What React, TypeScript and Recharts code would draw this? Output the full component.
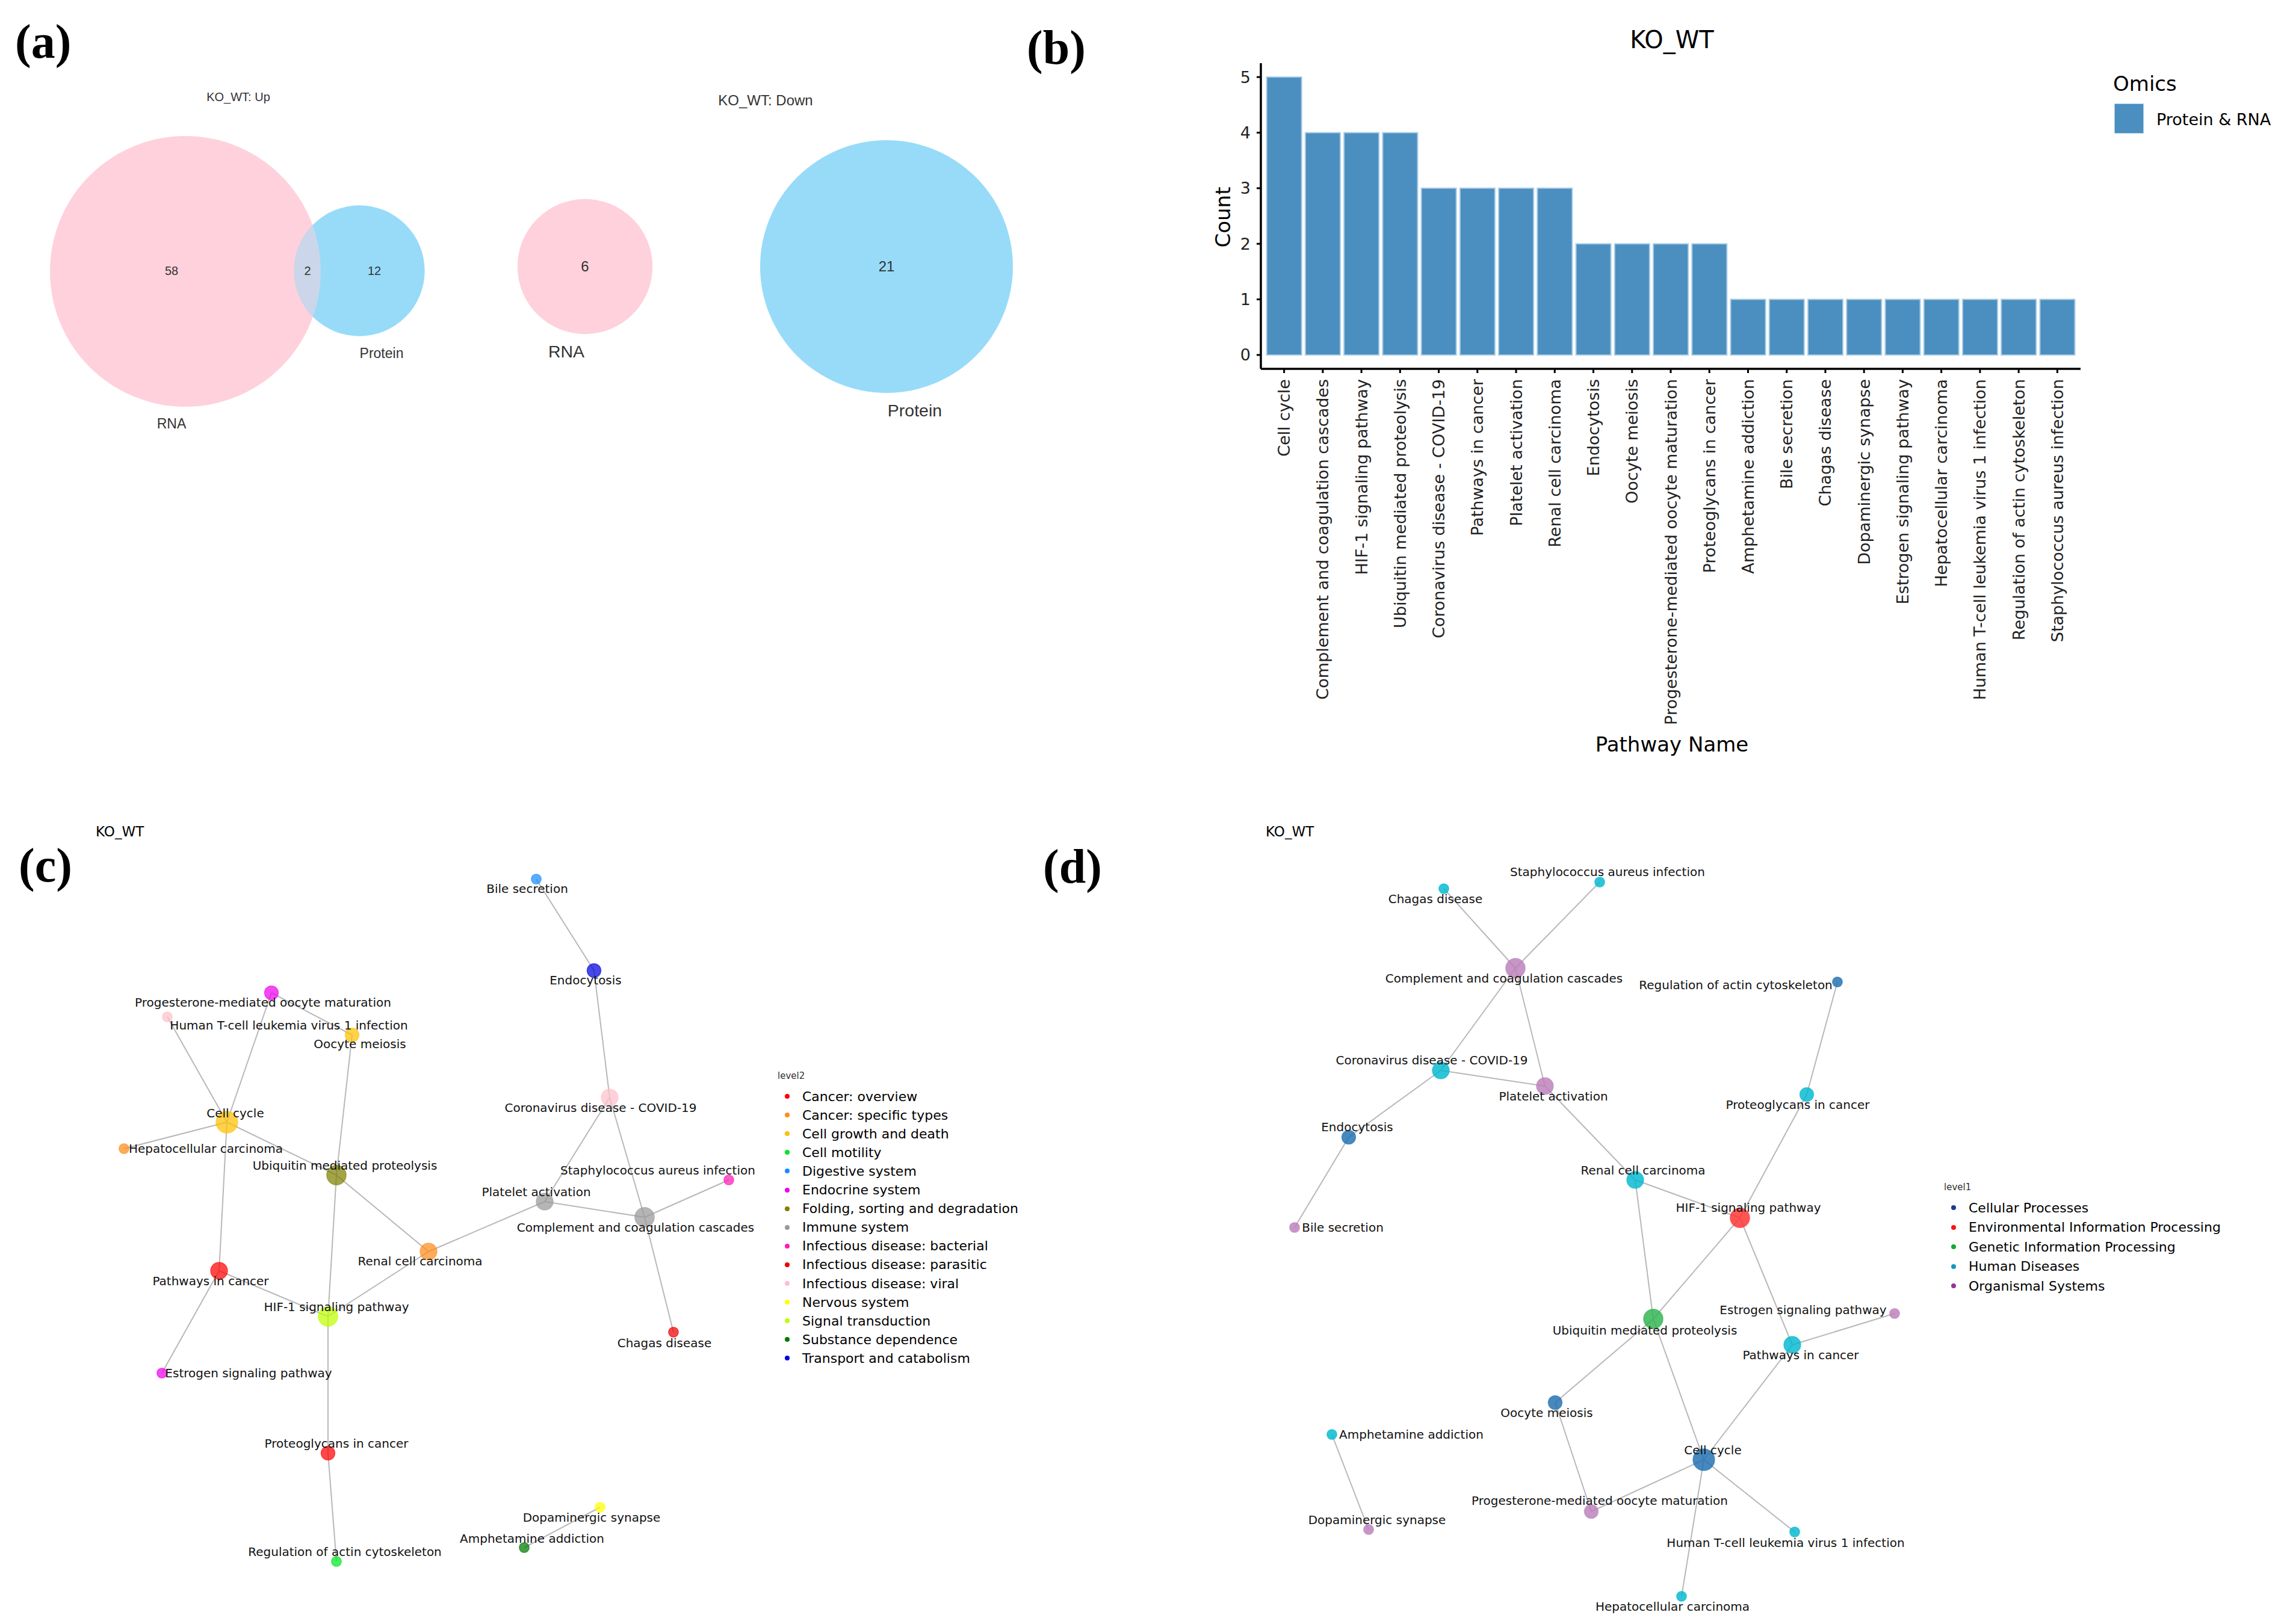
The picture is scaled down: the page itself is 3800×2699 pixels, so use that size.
import React from "react";
import { BarChart, Bar, XAxis, YAxis, ScatterChart, Scatter, ZAxis, ReferenceLine } from "recharts";

const DV = "'DejaVu Sans', sans-serif";
const AR = "'Liberation Sans', Arial, sans-serif";
const SERIF = "'Liberation Serif', 'Times New Roman', serif";

// ---------- (a) Venn counts ----------
const upRnaOnly = 58;
const upBoth = 2;
const upProteinOnly = 12;
const downRnaOnly = 6;
const downProteinOnly = 21;

const vennUpSets = [
  { set: "RNA", n: upRnaOnly + upBoth },
  { set: "Protein", n: upProteinOnly + upBoth },
];
const vennDownSets = [
  { set: "RNA", n: downRnaOnly },
  { set: "Protein", n: downProteinOnly },
];

// ---------- (b) pathway counts ----------
const pathways = [
  "Cell cycle",
  "Complement and coagulation cascades",
  "HIF-1 signaling pathway",
  "Ubiquitin mediated proteolysis",
  "Coronavirus disease - COVID-19",
  "Pathways in cancer",
  "Platelet activation",
  "Renal cell carcinoma",
  "Endocytosis",
  "Oocyte meiosis",
  "Progesterone-mediated oocyte maturation",
  "Proteoglycans in cancer",
  "Amphetamine addiction",
  "Bile secretion",
  "Chagas disease",
  "Dopaminergic synapse",
  "Estrogen signaling pathway",
  "Hepatocellular carcinoma",
  "Human T-cell leukemia virus 1 infection",
  "Regulation of actin cytoskeleton",
  "Staphylococcus aureus infection",
];
const counts = [5, 4, 4, 4, 3, 3, 3, 3, 2, 2, 2, 2, 1, 1, 1, 1, 1, 1, 1, 1, 1];
const countTicks = [0, 1, 2, 3, 4, 5];

// ---------- (c)/(d) KEGG levels ----------
const level2Names = [
  "Cancer: overview",
  "Cancer: specific types",
  "Cell growth and death",
  "Cell motility",
  "Digestive system",
  "Endocrine system",
  "Folding, sorting and degradation",
  "Immune system",
  "Infectious disease: bacterial",
  "Infectious disease: parasitic",
  "Infectious disease: viral",
  "Nervous system",
  "Signal transduction",
  "Substance dependence",
  "Transport and catabolism",
];
const level2Colors = [
  "#ff0000", "#ff8c1a", "#ffc000", "#00e626", "#1a8cff", "#ee00ee", "#808000", "#999999",
  "#ff1ab8", "#ee0000", "#ffc0cb", "#ffff00", "#bfff00", "#007a00", "#0000dd",
];
const level1Names = [
  "Cellular Processes",
  "Environmental Information Processing",
  "Genetic Information Processing",
  "Human Diseases",
  "Organismal Systems",
];
const level1Legend = ["#1a3a8c", "#ff1111", "#11aa33", "#1199bb", "#993399"];
const level1Node = ["#1f6fb0", "#ff3030", "#2db34e", "#00b8d0", "#bb7fbb"];

const pathwayLevel2: Record<string, string> = {
  "Cell cycle": "Cell growth and death",
  "Complement and coagulation cascades": "Immune system",
  "HIF-1 signaling pathway": "Signal transduction",
  "Ubiquitin mediated proteolysis": "Folding, sorting and degradation",
  "Coronavirus disease - COVID-19": "Infectious disease: viral",
  "Pathways in cancer": "Cancer: overview",
  "Platelet activation": "Immune system",
  "Renal cell carcinoma": "Cancer: specific types",
  "Endocytosis": "Transport and catabolism",
  "Oocyte meiosis": "Cell growth and death",
  "Progesterone-mediated oocyte maturation": "Endocrine system",
  "Proteoglycans in cancer": "Cancer: overview",
  "Amphetamine addiction": "Substance dependence",
  "Bile secretion": "Digestive system",
  "Chagas disease": "Infectious disease: parasitic",
  "Dopaminergic synapse": "Nervous system",
  "Estrogen signaling pathway": "Endocrine system",
  "Hepatocellular carcinoma": "Cancer: specific types",
  "Human T-cell leukemia virus 1 infection": "Infectious disease: viral",
  "Regulation of actin cytoskeleton": "Cell motility",
  "Staphylococcus aureus infection": "Infectious disease: bacterial",
};
const pathwayLevel1: Record<string, string> = {
  "Cell cycle": "Cellular Processes",
  "Complement and coagulation cascades": "Organismal Systems",
  "HIF-1 signaling pathway": "Environmental Information Processing",
  "Ubiquitin mediated proteolysis": "Genetic Information Processing",
  "Coronavirus disease - COVID-19": "Human Diseases",
  "Pathways in cancer": "Human Diseases",
  "Platelet activation": "Organismal Systems",
  "Renal cell carcinoma": "Human Diseases",
  "Endocytosis": "Cellular Processes",
  "Oocyte meiosis": "Cellular Processes",
  "Progesterone-mediated oocyte maturation": "Organismal Systems",
  "Proteoglycans in cancer": "Human Diseases",
  "Amphetamine addiction": "Human Diseases",
  "Bile secretion": "Organismal Systems",
  "Chagas disease": "Human Diseases",
  "Dopaminergic synapse": "Organismal Systems",
  "Estrogen signaling pathway": "Organismal Systems",
  "Hepatocellular carcinoma": "Human Diseases",
  "Human T-cell leukemia virus 1 infection": "Human Diseases",
  "Regulation of actin cytoskeleton": "Cellular Processes",
  "Staphylococcus aureus infection": "Human Diseases",
};

const edgesC = [
  ["Bile secretion", "Endocytosis"],
  ["Endocytosis", "Coronavirus disease - COVID-19"],
  ["Coronavirus disease - COVID-19", "Platelet activation"],
  ["Coronavirus disease - COVID-19", "Complement and coagulation cascades"],
  ["Platelet activation", "Complement and coagulation cascades"],
  ["Staphylococcus aureus infection", "Complement and coagulation cascades"],
  ["Complement and coagulation cascades", "Chagas disease"],
  ["Platelet activation", "Renal cell carcinoma"],
  ["Renal cell carcinoma", "Ubiquitin mediated proteolysis"],
  ["Renal cell carcinoma", "HIF-1 signaling pathway"],
  ["Ubiquitin mediated proteolysis", "Cell cycle"],
  ["Ubiquitin mediated proteolysis", "Oocyte meiosis"],
  ["Ubiquitin mediated proteolysis", "HIF-1 signaling pathway"],
  ["Oocyte meiosis", "Progesterone-mediated oocyte maturation"],
  ["Progesterone-mediated oocyte maturation", "Cell cycle"],
  ["Human T-cell leukemia virus 1 infection", "Cell cycle"],
  ["Hepatocellular carcinoma", "Cell cycle"],
  ["Cell cycle", "Pathways in cancer"],
  ["Pathways in cancer", "HIF-1 signaling pathway"],
  ["Pathways in cancer", "Estrogen signaling pathway"],
  ["HIF-1 signaling pathway", "Proteoglycans in cancer"],
  ["Proteoglycans in cancer", "Regulation of actin cytoskeleton"],
  ["Dopaminergic synapse", "Amphetamine addiction"],
];
const edgesD = [
  ["Staphylococcus aureus infection", "Complement and coagulation cascades"],
  ["Chagas disease", "Complement and coagulation cascades"],
  ["Complement and coagulation cascades", "Coronavirus disease - COVID-19"],
  ["Complement and coagulation cascades", "Platelet activation"],
  ["Coronavirus disease - COVID-19", "Platelet activation"],
  ["Coronavirus disease - COVID-19", "Endocytosis"],
  ["Endocytosis", "Bile secretion"],
  ["Platelet activation", "Renal cell carcinoma"],
  ["Renal cell carcinoma", "HIF-1 signaling pathway"],
  ["Renal cell carcinoma", "Ubiquitin mediated proteolysis"],
  ["Regulation of actin cytoskeleton", "Proteoglycans in cancer"],
  ["Proteoglycans in cancer", "HIF-1 signaling pathway"],
  ["HIF-1 signaling pathway", "Ubiquitin mediated proteolysis"],
  ["HIF-1 signaling pathway", "Pathways in cancer"],
  ["Estrogen signaling pathway", "Pathways in cancer"],
  ["Pathways in cancer", "Cell cycle"],
  ["Ubiquitin mediated proteolysis", "Oocyte meiosis"],
  ["Ubiquitin mediated proteolysis", "Cell cycle"],
  ["Oocyte meiosis", "Progesterone-mediated oocyte maturation"],
  ["Cell cycle", "Progesterone-mediated oocyte maturation"],
  ["Cell cycle", "Human T-cell leukemia virus 1 infection"],
  ["Cell cycle", "Hepatocellular carcinoma"],
  ["Amphetamine addiction", "Dopaminergic synapse"],
];

// ---------- layouts (spring-layout positions) ----------
const vennCentres: Record<string, Record<string, number[]>> = {
  up: { RNA: [308, 451], Protein: [597, 450] },
  down: { RNA: [972, 443], Protein: [1473, 443] },
};
const vennText = [
  { text: String(upRnaOnly), at: [285, 450], kind: "countUp" },
  { text: String(upBoth), at: [511, 450], kind: "countUp" },
  { text: String(upProteinOnly), at: [622, 450], kind: "countUp" },
  { text: "RNA", at: [285, 704], kind: "nameUp" },
  { text: "Protein", at: [634, 587], kind: "nameUp" },
  { text: String(downRnaOnly), at: [972, 442], kind: "countDown" },
  { text: String(downProteinOnly), at: [1473, 442], kind: "countDown" },
  { text: "RNA", at: [941, 584], kind: "nameDown" },
  { text: "Protein", at: [1520, 682], kind: "nameDown" },
];
const vennTextSize: Record<string, number> = { countUp: 20, countDown: 24, nameUp: 23, nameDown: 28.5 };

// [node x, node y, label x, label y]
const layoutC: Record<string, number[]> = {
  "Bile secretion": [891, 121, 876, 137],
  "Endocytosis": [987, 273, 973, 289],
  "Progesterone-mediated oocyte maturation": [451, 310, 437, 326],
  "Human T-cell leukemia virus 1 infection": [278, 350, 480, 364],
  "Oocyte meiosis": [585, 380, 598, 395],
  "Cell cycle": [377, 525, 391, 510],
  "Hepatocellular carcinoma": [206, 569, 342, 569],
  "Ubiquitin mediated proteolysis": [559, 613, 573, 597],
  "Coronavirus disease - COVID-19": [1013, 484, 998, 501],
  "Staphylococcus aureus infection": [1211, 621, 1093, 605],
  "Platelet activation": [905, 657, 891, 641],
  "Complement and coagulation cascades": [1071, 683, 1056, 700],
  "Renal cell carcinoma": [712, 740, 698, 756],
  "Pathways in cancer": [364, 772, 350, 789],
  "HIF-1 signaling pathway": [545, 848, 559, 832],
  "Chagas disease": [1119, 874, 1104, 892],
  "Estrogen signaling pathway": [269, 942, 413, 942],
  "Proteoglycans in cancer": [545, 1075, 559, 1059],
  "Dopaminergic synapse": [997, 1165, 983, 1182],
  "Amphetamine addiction": [871, 1232, 884, 1217],
  "Regulation of actin cytoskeleton": [559, 1255, 573, 1239],
};
const layoutD: Record<string, number[]> = {
  "Staphylococcus aureus infection": [598, 126, 611, 109],
  "Chagas disease": [339, 137, 325, 154],
  "Complement and coagulation cascades": [458, 269, 439, 286],
  "Regulation of actin cytoskeleton": [993, 292, 824, 297],
  "Coronavirus disease - COVID-19": [334, 439, 319, 422],
  "Platelet activation": [507, 465, 521, 482],
  "Proteoglycans in cancer": [942, 479, 927, 496],
  "Endocytosis": [181, 550, 195, 533],
  "Renal cell carcinoma": [657, 621, 670, 605],
  "HIF-1 signaling pathway": [831, 684, 845, 667],
  "Bile secretion": [91, 700, 171, 700],
  "Estrogen signaling pathway": [1088, 843, 936, 837],
  "Ubiquitin mediated proteolysis": [687, 852, 673, 871],
  "Pathways in cancer": [918, 895, 932, 912],
  "Oocyte meiosis": [524, 991, 510, 1008],
  "Amphetamine addiction": [153, 1044, 285, 1044],
  "Cell cycle": [771, 1086, 786, 1070],
  "Progesterone-mediated oocyte maturation": [584, 1172, 598, 1154],
  "Dopaminergic synapse": [214, 1202, 228, 1186],
  "Human T-cell leukemia virus 1 infection": [922, 1206, 907, 1224],
  "Hepatocellular carcinoma": [734, 1313, 719, 1330],
};

const PINK = "#ffd1dc";
const BLUE = "#97dbf9";
const BAR = "#4a8fbf";

// ---------- helpers ----------
type TxtProps = {
  x: number; y: number; size: number; children: React.ReactNode;
  family?: string; anchor?: "start" | "middle"; color?: string; weight?: number; rotate?: number;
};
function Txt({ x, y, size, children, family = DV, anchor = "start", color = "#000", weight = 400, rotate = 0 }: TxtProps) {
  const h = Math.round(size * 1.4);
  const tx = anchor === "middle" ? "-50%" : "0";
  return (
    <div
      style={{
        position: "absolute", left: x, top: y - h / 2, height: h, lineHeight: `${h}px`,
        fontSize: size, fontFamily: family, color, fontWeight: weight, whiteSpace: "nowrap",
        transform: `translateX(${tx}) rotate(${rotate}deg)`,
      }}
    >
      {children}
    </div>
  );
}

const vennShape = (clipId: string) => (props: any) => {
  const { cx, cy, payload } = props;
  const r = props.width ? props.width / 2 : Math.sqrt(props.size / Math.PI);
  if (payload.set === "RNA") {
    return (
      <g>
        <defs>
          <clipPath id={clipId}>
            <circle cx={cx} cy={cy} r={r} />
          </clipPath>
        </defs>
        <circle cx={cx} cy={cy} r={r} fill={PINK} />
      </g>
    );
  }
  return (
    <g>
      <circle cx={cx} cy={cy} r={r} fill={BLUE} />
      <circle cx={cx} cy={cy} r={r} fill={PINK} fillOpacity={0.5} clipPath={`url(#${clipId})`} />
    </g>
  );
};

const VennText = (props: any) => {
  const { cx, cy, payload } = props;
  return (
    <text x={cx} y={cy} textAnchor="middle" dominantBaseline="central" fontFamily={AR}
      fontSize={vennTextSize[payload.kind]} fill="#333">
      {payload.text}
    </text>
  );
};

function VennPanel() {
  const up = vennUpSets.map((s) => ({ ...s, x: vennCentres.up[s.set][0], y: vennCentres.up[s.set][1] }));
  const down = vennDownSets.map((s) => ({ ...s, x: vennCentres.down[s.set][0], y: vennCentres.down[s.set][1] }));
  const texts = vennText.map((t) => ({ ...t, x: t.at[0], y: t.at[1], n: 1 }));
  const maxUp = Math.max(...up.map((d) => d.n));
  const maxDown = Math.max(...down.map((d) => d.n));
  return (
    <div style={{ position: "absolute", left: 0, top: 0 }}>
      <ScatterChart width={1750} height={760} margin={{ top: 0, right: 0, bottom: 0, left: 0 }}>
        <XAxis type="number" dataKey="x" domain={[0, 1750]} hide allowDataOverflow />
        <YAxis type="number" dataKey="y" domain={[0, 760]} reversed hide allowDataOverflow />
        <ZAxis zAxisId="up" type="number" dataKey="n" domain={[0, maxUp]} range={[0, Math.PI * 225 * 225]} />
        <ZAxis zAxisId="down" type="number" dataKey="n" domain={[0, maxDown]} range={[0, Math.PI * 210 * 210]} />
        <ZAxis zAxisId="txt" type="number" dataKey="n" range={[1, 1]} />
        <Scatter data={up} zAxisId="up" shape={vennShape("clip-rna-up")} isAnimationActive={false} />
        <Scatter data={down} zAxisId="down" shape={vennShape("clip-rna-down")} isAnimationActive={false} />
        <Scatter data={texts} zAxisId="txt" shape={VennText} isAnimationActive={false} />
      </ScatterChart>
      <Txt x={396} y={161} size={20} family={AR} anchor="middle" color="#333">KO_WT: Up</Txt>
      <Txt x={1272} y={167} size={24} family={AR} anchor="middle" color="#333">KO_WT: Down</Txt>
    </div>
  );
}

const PathTick = (props: any) => {
  const { x, y, payload } = props;
  return (
    <text x={x} y={y} transform={`rotate(-90 ${x} ${y})`} textAnchor="end" dominantBaseline="central"
      fontSize={27} fontFamily={DV} fill="#222">
      {payload.value}
    </text>
  );
};

function BarPanel() {
  const data = pathways.map((name, i) => ({ name, count: counts[i] }));
  return (
    <div style={{ position: "absolute", left: 1700, top: 0 }}>
      <BarChart width={2100} height={1300} data={data} barCategoryGap="5%"
        margin={{ top: 105, right: 343, bottom: 127, left: 315 }}>
        <XAxis dataKey="name" interval={0} height={560} tick={<PathTick />} tickSize={7} tickMargin={10}
          tickLine={{ stroke: "#000", strokeWidth: 3 }} axisLine={{ stroke: "#000", strokeWidth: 3.5 }}
          padding={{ left: 6.5, right: 6.5 }} />
        <YAxis type="number" domain={[-0.25, 5.25]} ticks={countTicks} width={80} tickSize={7} tickMargin={10}
          tick={{ fontSize: 27, fontFamily: DV, fill: "#222" }}
          tickLine={{ stroke: "#000", strokeWidth: 3 }} axisLine={{ stroke: "#000", strokeWidth: 3.5 }} />
        <Bar dataKey="count" fill={BAR} stroke="#a9cbe6" strokeWidth={2} isAnimationActive={false} />
      </BarChart>
      <Txt x={1078} y={66} size={40} anchor="middle">KO_WT</Txt>
      <Txt x={332} y={361} size={34} anchor="middle" rotate={-90}>Count</Txt>
      <Txt x={1078} y={1237} size={34} anchor="middle">Pathway Name</Txt>
      <Txt x={1811} y={139} size={34}>Omics</Txt>
      <div style={{ position: "absolute", left: 1813, top: 172, width: 47, height: 48, background: BAR, border: "1.5px solid #a9cbe6" }} />
      <Txt x={1883} y={199} size={27}>Protein &amp; RNA</Txt>
    </div>
  );
}

const NW = 1740;
const NH = 1359;

const nodeShape = (opacity: number) => (props: any) => {
  const { cx, cy, payload } = props;
  const r = props.width ? props.width / 2 : Math.sqrt(props.size / Math.PI);
  return (
    <circle cx={cx} cy={cy} r={r} fill={payload.color} fillOpacity={opacity}
      stroke={payload.color} strokeOpacity={0.55} strokeWidth={1.5} />
  );
};

const NodeLabel = (props: any) => {
  const { cx, cy, payload } = props;
  return (
    <text x={cx} y={cy} textAnchor="middle" dominantBaseline="central" fontSize={20} fontFamily={DV} fill="#111">
      {payload.name}
    </text>
  );
};

type NetProps = {
  left: number; top: number; layout: Record<string, number[]>; edges: string[][];
  colorOf: (name: string) => string; opacity: number;
  title: string; legendTitle: string; legendNames: string[]; legendColors: string[];
  legendX: number; legendY: number; legendStep: number; legendSize: number;
};

function NetworkPanel(p: NetProps) {
  const nodes = pathways.map((name, i) => ({
    name, count: counts[i], x: p.layout[name][0], y: p.layout[name][1], color: p.colorOf(name),
  }));
  const labels = pathways.map((name, i) => ({ name, count: counts[i], x: p.layout[name][2], y: p.layout[name][3] }));
  return (
    <div style={{ position: "absolute", left: p.left, top: p.top, width: NW, height: NH }}>
      <ScatterChart width={NW} height={NH} margin={{ top: 0, right: 0, bottom: 0, left: 0 }}>
        <XAxis type="number" dataKey="x" domain={[0, NW]} hide allowDataOverflow />
        <YAxis type="number" dataKey="y" domain={[0, NH]} reversed hide allowDataOverflow />
        <ZAxis type="number" dataKey="count" domain={[0, 5]} range={[16, 1021]} />
        {p.edges.map(([a, b]) => (
          <ReferenceLine key={a + "|" + b}
            segment={[{ x: p.layout[a][0], y: p.layout[a][1] }, { x: p.layout[b][0], y: p.layout[b][1] }]}
            stroke="#b8b8b8" strokeWidth={2} />
        ))}
        <Scatter data={nodes} shape={nodeShape(p.opacity)} isAnimationActive={false} />
        <Scatter data={labels} shape={NodeLabel} isAnimationActive={false} />
      </ScatterChart>
      <Txt x={p.title === "c" ? 159 : 43} y={42} size={23}>KO_WT</Txt>
      <Txt x={p.legendX - 16} y={p.legendY - 34} size={15} color="#333">{p.legendTitle}</Txt>
      {p.legendNames.map((name, i) => (
        <React.Fragment key={name}>
          <div style={{
            position: "absolute", left: p.legendX - 4, top: p.legendY + i * p.legendStep - 4,
            width: 8, height: 8, borderRadius: 4, background: p.legendColors[i],
          }} />
          <Txt x={p.legendX + 25} y={p.legendY + i * p.legendStep} size={p.legendSize}>{name}</Txt>
        </React.Fragment>
      ))}
    </div>
  );
}

export default function App() {
  const colorC = (name: string) => level2Colors[level2Names.indexOf(pathwayLevel2[name])];
  const colorD = (name: string) => level1Node[level1Names.indexOf(pathwayLevel1[name])];
  return (
    <div style={{ position: "absolute", left: 0, top: 0, width: 3800, height: 2699, background: "#fff", overflow: "hidden" }}>
      <VennPanel />
      <BarPanel />
      <NetworkPanel left={0} top={1340} layout={layoutC} edges={edgesC} colorOf={colorC} opacity={0.72}
        title="c" legendTitle="level2" legendNames={level2Names} legendColors={level2Colors}
        legendX={1308} legendY={482} legendStep={31.1} legendSize={22} />
      <NetworkPanel left={2060} top={1340} layout={layoutD} edges={edgesD} colorOf={colorD} opacity={0.82}
        title="d" legendTitle="level1" legendNames={level1Names} legendColors={level1Legend}
        legendX={1186} legendY={667} legendStep={32.6} legendSize={22} />
      <Txt x={25} y={69} size={80} family={SERIF} weight={700}>(a)</Txt>
      <Txt x={1706} y={79} size={80} family={SERIF} weight={700}>(b)</Txt>
      <Txt x={31} y={1438} size={80} family={SERIF} weight={700}>(c)</Txt>
      <Txt x={1733} y={1440} size={80} family={SERIF} weight={700}>(d)</Txt>
    </div>
  );
}
